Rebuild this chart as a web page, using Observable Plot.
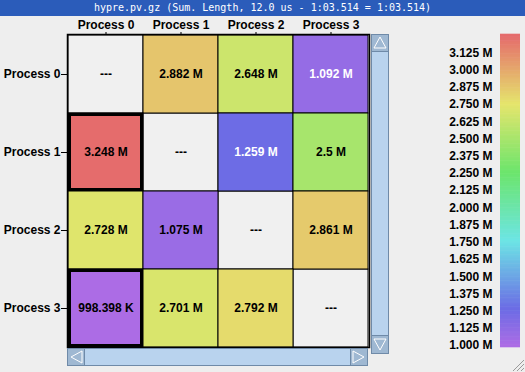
<!DOCTYPE html>
<html>
<head>
<meta charset="utf-8">
<script src="https://cdn.jsdelivr.net/npm/d3@7"></script>
<script src="https://cdn.jsdelivr.net/npm/@observablehq/plot@0.6"></script>
<style>
  html, body { margin: 0; padding: 0; background: #eeeeee; }
  #wrap { position: relative; width: 525px; height: 372px; overflow: hidden; background: #eeeeee; }
  #title { position: absolute; left: 0; top: 0; width: 525px; height: 16px; background: #2b5cba;
           color: #ffffff; font: 10px "DejaVu Sans Mono", monospace; line-height: 16px; text-align: center; }
  .abs { position: absolute; }
</style>
</head>
<body>
<div id="wrap">
  <div id="title">hypre.pv.gz (Sum. Length, 12.0 us - 1:03.514 = 1:03.514)</div>
</div>
<script>
// ---- data ----
const processes = ["Process 0", "Process 1", "Process 2", "Process 3"];
const row0 = [null, 2882000, 2648000, 1092000];
const row1 = [3248000, null, 1259000, 2500000];
const row2 = [2728000, 1075000, null, 2861000];
const row3 = [998398, 2701000, 2792000, null];
const legendTicks = [1000000, 1125000, 1250000, 1375000, 1500000, 1625000, 1750000, 1875000,
                     2000000, 2125000, 2250000, 2375000, 2500000, 2625000, 2750000, 2875000,
                     3000000, 3125000];

const rows = [row0, row1, row2, row3];
const cells = rows.flatMap((r, i) => r.map((v, j) => ({row: processes[i], col: processes[j], v})));
const valued = cells.filter(d => d.v != null);
const vmin = d3.min(valued, d => d.v), vmax = d3.max(valued, d => d.v);

const fmt = v => v == null ? "---"
  : v >= 1e6 ? (+(v / 1e6).toFixed(3)) + " M"
  : (v / 1e3).toFixed(3) + " K";

const colorScale = {
  type: "linear",
  domain: [vmin, vmax],
  clamp: true,
  interpolate: t => d3.hsl(272 * (1 - t), 0.7, 0.66).formatHex()
};
const font = "bold 12px 'Liberation Sans', Arial, sans-serif";

// ---- matrix ----
const matrix = Plot.plot({
  width: 525, height: 372,
  marginLeft: 67, marginRight: 156, marginTop: 34, marginBottom: 25,
  style: {background: "transparent", font, color: "#000"},
  x: {domain: processes, padding: 0, axis: "top", label: null, tickSize: 3, tickPadding: 3},
  y: {domain: processes, padding: 0, label: null, tickSize: 6, tickPadding: 1},
  color: colorScale,
  marks: [
    Plot.cell(cells.filter(d => d.v == null), {x: "col", y: "row", fill: "#f0f0f0", stroke: "#000", strokeWidth: 1}),
    Plot.cell(valued, {x: "col", y: "row", fill: "v", stroke: "#000", strokeWidth: 1}),
    Plot.cell(valued.filter(d => d.v === vmin || d.v === vmax),
      {x: "col", y: "row", fill: "none", stroke: "#000", strokeWidth: 3, inset: 1.5}),
    Plot.text(cells, {x: "col", y: "row", text: d => fmt(d.v),
      fill: d => (d.v != null && d.v > 1.08e6 && d.v < 1.5e6) ? "#ffffff" : "#000000",
      fontWeight: "bold", fontSize: 12}),
    Plot.frame({stroke: "#000", strokeWidth: 1.5})
  ]
});
matrix.classList.add("abs");
matrix.style.left = "0px"; matrix.style.top = "0px";

// ---- legend ----
const N = 240;
const lo = 985500, hi = 3259000;
const steps = d3.range(N).map(i => ({y1: lo + (hi - lo) * i / N, y2: lo + (hi - lo) * (i + 1) / N}));
const legend = Plot.plot({
  width: 100, height: 372,
  marginLeft: 75, marginRight: 5, marginTop: 34, marginBottom: 25,
  style: {background: "transparent", font, color: "#000"},
  x: {domain: [0, 1], axis: null},
  y: {domain: [lo, hi], ticks: legendTicks, tickFormat: v => (v / 1e6).toFixed(3) + " M",
      tickSize: 0, tickPadding: 8, label: null},
  color: colorScale,
  marks: [
    Plot.rect(steps, {x1: 0, x2: 1, y1: "y1", y2: "y2", fill: d => (d.y1 + d.y2) / 2, inset: 0, insetTop: -0.3, insetBottom: -0.3})
  ]
});
legend.classList.add("abs");
legend.style.left = "425px"; legend.style.top = "0px";

const wrap = document.getElementById("wrap");
wrap.appendChild(matrix);
wrap.appendChild(legend);

// ---- scrollbars / window decoration ----
const deco = document.createElementNS("http://www.w3.org/2000/svg", "svg");
deco.setAttribute("width", 525); deco.setAttribute("height", 372);
deco.setAttribute("class", "abs");
deco.style.left = "0px"; deco.style.top = "0px"; deco.style.pointerEvents = "none";
deco.innerHTML = `
  <g shape-rendering="crispEdges">
    <rect x="371.5" y="34.5" width="17" height="319" fill="#b9d3ee" stroke="#6f8aa8"/>
    <rect x="372" y="35" width="16" height="16" fill="#9fb8d2"/>
    <line x1="372" y1="51.5" x2="388" y2="51.5" stroke="#6f8aa8"/>
    <rect x="372" y="336" width="16" height="17" fill="#9fb8d2"/>
    <line x1="372" y1="335.5" x2="388" y2="335.5" stroke="#6f8aa8"/>
    <rect x="67.5" y="348.5" width="300" height="17" fill="#b9d3ee" stroke="#6f8aa8"/>
    <rect x="68" y="349" width="16" height="16" fill="#9fb8d2"/>
    <line x1="84.5" y1="349" x2="84.5" y2="365" stroke="#6f8aa8"/>
    <rect x="351" y="349" width="16" height="16" fill="#9fb8d2"/>
    <line x1="350.5" y1="349" x2="350.5" y2="365" stroke="#6f8aa8"/>
  </g>
  <g fill="none" stroke="#ffffff" stroke-width="1">
    <path d="M380,37 L386,48 L374,48 Z"/>
    <path d="M374,339 L386,339 L380,350 Z"/>
    <path d="M82,351 L82,363 L71,357 Z"/>
    <path d="M353,351 L353,363 L364,357 Z"/>
  </g>
  <g stroke="#9a9a9a" stroke-width="1">
    <line x1="513" y1="371" x2="524" y2="360"/>
    <line x1="517" y1="371" x2="524" y2="364"/>
    <line x1="521" y1="371" x2="524" y2="368"/>
  </g>`;
wrap.appendChild(deco);
</script>
</body>
</html>
